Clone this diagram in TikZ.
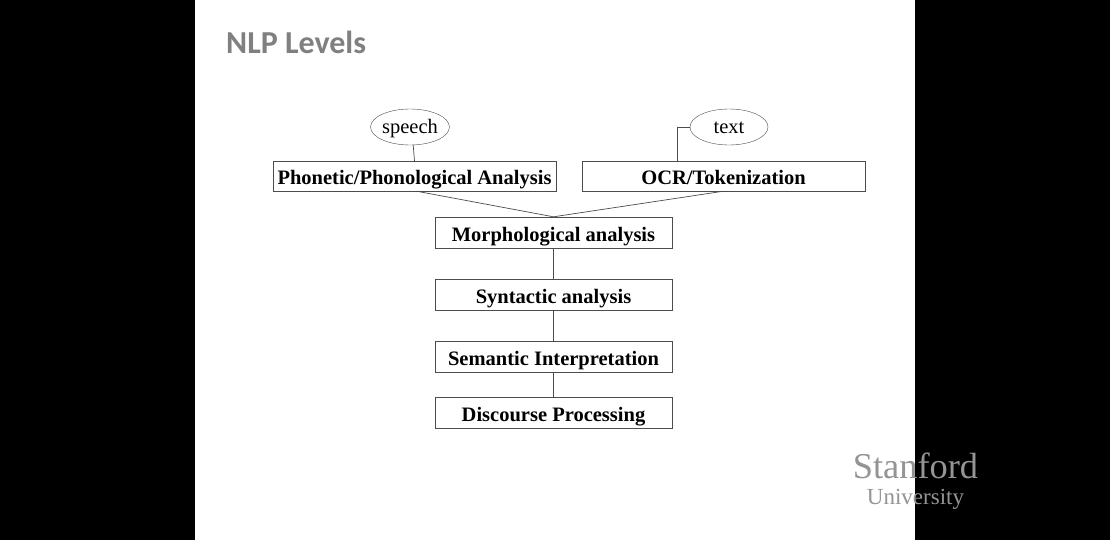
\documentclass[tikz,border=0pt]{standalone}
\usepackage{fontspec}
\setmainfont{Liberation Serif}
\newfontfamily\titlefont{Carlito}
\definecolor{linegray}{gray}{0.3}
\definecolor{titlegray}{gray}{0.5}
\definecolor{logogray}{gray}{0.58}
\tikzset{
    level box/.style={draw=linegray,rectangle,inner sep=0,text height=18pt,text depth=0pt,font=\fontsize{20.5}{24}\selectfont\bfseries},
    source/.style={ellipse,draw=linegray,minimum width=78pt,minimum height=36pt,inner sep=0,text height=13pt,text depth=0pt,font=\fontsize{20.5}{22}\selectfont},
    link/.style={draw=linegray,line width=0.7pt}
}
\usetikzlibrary{shapes.geometric}
\begin{document}
\begin{tikzpicture}[x=1pt,y=-1pt]
    \useasboundingbox (0,0) rectangle (1110,540);
    \fill[black] (0,0) rectangle (1110,540);
    \fill[white] (195,0) rectangle (915,540);

    \node[anchor=west,inner sep=0,text=titlegray,font=\titlefont\fontsize{32}{34}\selectfont\bfseries] (title) at (226,42.5) {NLP Levels};

    \node[source] (speech) at (410,127) {speech};
    \node[source] (txtin) at (729,127) {text};

    \node[level box,minimum width=283pt,minimum height=30pt] (phon) at (414.5,176) {Phonetic/Phonological Analysis};
    \node[level box,minimum width=283pt,minimum height=30pt] (ocr) at (723.5,176) {OCR/Tokenization};
    \node[level box,minimum width=237pt,minimum height=31pt] (morph) at (553.5,232.5) {Morphological analysis};
    \node[level box,minimum width=237pt,minimum height=31pt] (syn) at (553.5,294.5) {Syntactic analysis};
    \node[level box,minimum width=237pt,minimum height=31pt] (sem) at (553.5,356.5) {Semantic Interpretation};
    \node[level box,minimum width=237pt,minimum height=31pt] (disc) at (553.5,412.5) {Discourse Processing};

    \draw[link] (speech.280) -- (phon.north);
    \draw[link] (txtin.west) -| ([xshift=-46.5pt]ocr.north);
    \draw[link] ([xshift=2pt]phon.south) -- (morph.north);
    \draw[link] (ocr.south) -- (morph.north);
    \draw[link] (morph) -- (syn);
    \draw[link] (syn) -- (sem);
    \draw[link] (sem) -- (disc);

    % logo sits across the slide edge
    \node[text=logogray,font=\fontsize{36.4}{38}\selectfont,inner sep=0] (stanford) at (915.5,466) {Stanford};
    \node[text=logogray,font=\fontsize{23}{25}\selectfont,inner sep=0] (univ) at (915.5,499) {University};
\end{tikzpicture}
\end{document}
